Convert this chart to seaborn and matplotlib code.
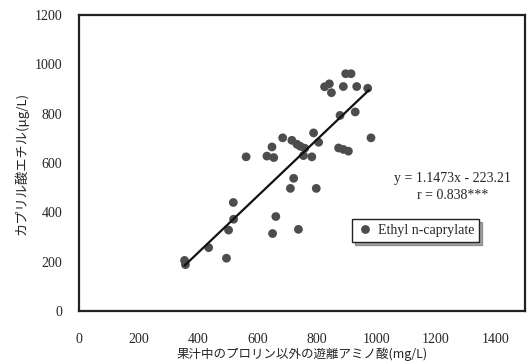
"""
Scatter of ethyl n-caprylate vs free amino acids (excluding proline) in juice
"""

import numpy as np
import pandas as pd
import matplotlib
matplotlib.use('Agg')
import matplotlib.pyplot as plt
import seaborn as sns

# Data
amino_acid = [355, 358, 436, 496, 503, 520, 519, 562, 632, 655,
              649, 651, 662, 685, 716, 733, 744, 759, 711, 722,
              738, 755, 783, 789, 798, 806, 826, 842, 849, 873,
              889, 906, 878, 929, 889, 934, 971, 897, 915, 982]
caprylate = [205, 188, 257, 214, 328, 372, 440, 625, 628, 622,
             665, 314, 383, 702, 692, 676, 668, 660, 497, 538,
             331, 630, 625, 722, 497, 684, 909, 921, 885, 661,
             655, 648, 793, 807, 910, 910, 903, 962, 962, 702]
fit_slope = 1.1473
fit_intercept = -223.21
fit_range = [355, 975]
x_ticks = [0, 200, 400, 600, 800, 1000, 1200, 1400]
y_ticks = [0, 200, 400, 600, 800, 1000, 1200]

df = pd.DataFrame({'x': amino_acid, 'y': caprylate, 'series': 'Ethyl n-caprylate'})
fit_x = np.array(fit_range, dtype=float)
fit_df = pd.DataFrame({'x': fit_x, 'y': fit_slope * fit_x + fit_intercept})

sns.set_theme(style='white')
plt.rcParams['font.family'] = ['Liberation Serif', 'Noto Sans CJK JP']

fig = plt.figure(figsize=(5.28, 3.62), dpi=100)
ax = fig.add_axes([79 / 528, 1 - 311 / 362, 446 / 528, 296 / 362])

sns.lineplot(data=fit_df, x='x', y='y', color='#111111', lw=1.6, ax=ax, legend=False)
sns.scatterplot(data=df, x='x', y='y', hue='series', palette=['#4d4d4d'],
                s=40, edgecolor='none', ax=ax)

ax.set_xlim(0, 1500)
ax.set_ylim(0, 1200)
ax.set_xticks(x_ticks)
ax.set_yticks(y_ticks)
ax.tick_params(axis='x', direction='in', length=3, width=1, pad=16, labelsize=10, color='#222222')
ax.tick_params(axis='y', direction='in', length=3, width=1, pad=12, labelsize=10, color='#222222')
for s in ax.spines.values():
    s.set_linewidth(1.6)
    s.set_color('#222222')

cjk = ['Noto Sans CJK JP', 'DejaVu Sans']
ax.set_xlabel('果汁中のプロリン以外の遊離アミノ酸(mg/L)', family=cjk, fontsize=9)
ax.xaxis.set_label_coords(0.5, -0.122)
ax.set_ylabel('カプリル酸エチル(μg/L)', family=cjk, fontsize=9.5, labelpad=4)

ax.text(0.837, 0.449, 'y = 1.1473x - 223.21', transform=ax.transAxes,
        ha='center', va='center', fontsize=10)
ax.text(0.837, 0.39, 'r = 0.838***', transform=ax.transAxes,
        ha='center', va='center', fontsize=10)

leg = ax.legend(loc='upper left', bbox_to_anchor=(0.612, 0.31), frameon=True,
                fancybox=False, shadow=True, fontsize=10, handletextpad=0.3,
                borderpad=0.35, handlelength=1.2, borderaxespad=0)
leg.get_frame().set_edgecolor('#222222')
leg.get_frame().set_linewidth(1.0)

fig.savefig('out.png', dpi=100, facecolor='white')
